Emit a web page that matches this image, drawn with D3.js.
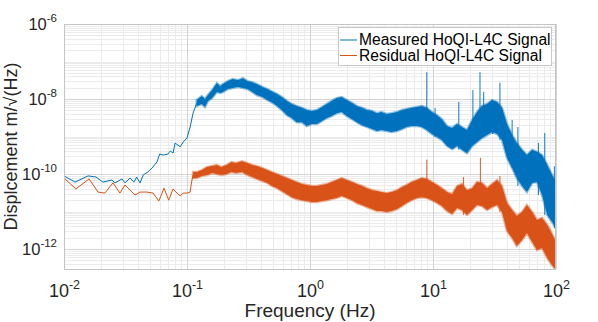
<!DOCTYPE html>
<html>
<head>
<meta charset="utf-8">
<script src="https://cdn.jsdelivr.net/npm/d3@7"></script>
<style>
  body { margin: 0; background: #fff; }
  svg { display: block; }
  text { font-family: "Liberation Sans", Arial, Helvetica, sans-serif; }
</style>
</head>
<body>
<svg id="chart" width="598" height="322"></svg>
<script>
// axis ticks
var xTickValues = [1e-2, 1e-1, 1e0, 1e1, 1e2];
var xTickExps = ["-2", "-1", "0", "1", "2"];
var yTickValues = [1e-12, 1e-10, 1e-8, 1e-6];
var yTickExps = ["-12", "-10", "-8", "-6"];
var seriesNames = ["Measured HoQI-L4C Signal", "Residual HoQI-L4C Signal"];

// measured signal, low frequency part (single trace)
var measLineFreq = [0.01, 0.0123, 0.0157, 0.0182, 0.0207, 0.0245, 0.026, 0.0296, 0.0313, 0.0344,
	0.037, 0.039, 0.0415, 0.044, 0.048, 0.052, 0.057, 0.06, 0.064, 0.07,
	0.073, 0.077, 0.08, 0.088, 0.093, 0.1, 0.106, 0.112, 0.12];
var measLineVal = [8.9e-11, 6.1e-11, 8.9e-11, 8.3e-11, 6.1e-11, 6.9e-11, 5.8e-11, 7.4e-11, 5.8e-11, 7.8e-11,
	6.1e-11, 8.3e-11, 5.8e-11, 9.4e-11, 1.13e-10, 1.44e-10, 2.1e-10, 3.4e-10, 3.2e-10, 3.4e-10,
	4.1e-10, 3.6e-10, 6.7e-10, 5.3e-10, 7.1e-10, 9.1e-10, 1.79e-9, 4.2e-9, 7.8e-9];

// measured signal, dense part: upper and lower envelope
var measBandFreq = [0.12, 0.132, 0.14, 0.148, 0.16, 0.175, 0.186, 0.196, 0.215, 0.235,
	0.26, 0.285, 0.31, 0.34, 0.37, 0.41, 0.45, 0.5, 0.54, 0.59,
	0.65, 0.71, 0.78, 0.86, 0.94, 1.03, 1.14, 1.25, 1.37, 1.5,
	1.65, 1.81, 1.99, 2.2, 2.4, 2.65, 2.9, 3.2, 3.5, 3.8,
	4.2, 4.6, 5.1, 5.6, 6.1, 6.7, 7.4, 8.1, 8.9, 9.8,
	10.8, 11.8, 13, 14.3, 15.7, 17.2, 18.9, 20.8, 22.8, 25,
	27.5, 30.2, 33.2, 36.4, 40, 44, 48, 53, 58, 64,
	70, 77, 85, 93, 100];
var measBandHi = [9.4e-9, 1.2e-8, 1.0e-8, 1.27e-8, 1.73e-8, 2.67e-8, 2.2e-8, 2.5e-8, 3.0e-8, 3.4e-8,
	3.2e-8, 3.6e-8, 3.0e-8, 2.8e-8, 2.5e-8, 2.1e-8, 1.84e-8, 1.53e-8, 1.36e-8, 1.13e-8,
	8.9e-9, 7.4e-9, 6.5e-9, 5.8e-9, 5.1e-9, 4.8e-9, 5.1e-9, 6.1e-9, 7.4e-9, 8.9e-9,
	1.06e-8, 1.13e-8, 9.4e-9, 7.8e-9, 6.5e-9, 5.8e-9, 5.1e-9, 4.8e-9, 4.2e-9, 4.5e-9,
	4.0e-9, 4.2e-9, 4.5e-9, 5.1e-9, 5.4e-9, 5.8e-9, 6.1e-9, 6.5e-9, 5.8e-9, 4.5e-9,
	3.7e-9, 2.9e-9, 1.9e-9, 1.68e-9, 2.15e-9, 1.8e-9, 1.49e-9, 2.75e-9, 4.5e-9, 6.5e-9,
	7.4e-9, 9.4e-9, 8.3e-9, 5.8e-9, 2.15e-9, 1.09e-9, 6.7e-10, 4.4e-10, 3.2e-10, 4.4e-10,
	3.9e-10, 3.2e-10, 1.73e-10, 9.4e-11, 6.1e-11];
var measBandLo = [6.5e-9, 7.4e-9, 6.1e-9, 8.9e-9, 1.06e-8, 1.53e-8, 1.44e-8, 1.53e-8, 1.84e-8, 1.96e-8,
	2.1e-8, 1.96e-8, 1.84e-8, 1.53e-8, 1.27e-8, 1.13e-8, 9.4e-9, 7.8e-9, 6.5e-9, 5.1e-9,
	3.7e-9, 3.1e-9, 2.4e-9, 2.4e-9, 1.9e-9, 2.15e-9, 2.15e-9, 2.6e-9, 3.1e-9, 3.5e-9,
	4.2e-9, 4.5e-9, 3.5e-9, 2.9e-9, 2.4e-9, 2.0e-9, 1.8e-9, 1.58e-9, 1.4e-9, 1.49e-9,
	1.4e-9, 1.31e-9, 1.4e-9, 1.58e-9, 1.8e-9, 1.9e-9, 1.9e-9, 1.8e-9, 1.49e-9, 1.16e-9,
	9.7e-10, 8.1e-10, 5.6e-10, 4.6e-10, 5.6e-10, 4.4e-10, 3.6e-10, 5.6e-10, 7.1e-10, 9.1e-10,
	1.09e-9, 1.31e-9, 1.16e-9, 8.1e-10, 2.67e-10, 1.44e-10, 7.8e-11, 4.8e-11, 3.3e-11, 5.8e-11,
	6.1e-11, 2.75e-11, 8.1e-12, 5.25e-12, 3.6e-12];
// narrow lines sticking out of the measured band
var measSpikeFreq = [8.9, 10.4, 16.2, 21.1, 24.1, 25.8, 30.5, 35, 44, 49, 72, 81, 97];
var measSpikeVal = [5.2e-8, 5.75e-9, 8.3e-9, 1.74e-8, 5.2e-8, 1.53e-8, 9.4e-9, 2.7e-8, 2.75e-9, 1.8e-9, 6.7e-10, 1.24e-9, 1.6e-10];

// residual signal, low frequency part
var resLineFreq = [0.01, 0.0125, 0.016, 0.0189, 0.0215, 0.025, 0.0285, 0.0313, 0.0378, 0.0415,
	0.0473, 0.053, 0.059, 0.065, 0.071, 0.077, 0.083, 0.088, 0.093, 0.1,
	0.106, 0.109, 0.112];
var resLineVal = [7.8e-11, 4.0e-11, 7.4e-11, 3.3e-11, 3.1e-11, 5.8e-11, 3.1e-11, 5.1e-11, 2.75e-11, 3.3e-11,
	3.3e-11, 3.1e-11, 1.9e-11, 4.2e-11, 2.0e-11, 4.0e-11, 3.1e-11, 2.6e-11, 3.1e-11, 3.1e-11,
	3.3e-11, 6.1e-11, 9.4e-11];

// residual signal, dense part
var resBandFreq = [0.112, 0.12, 0.132, 0.145, 0.16, 0.175, 0.19, 0.21, 0.23, 0.25,
	0.28, 0.31, 0.34, 0.37, 0.41, 0.45, 0.49, 0.54, 0.59, 0.65,
	0.71, 0.78, 0.86, 0.94, 1.03, 1.14, 1.25, 1.37, 1.5, 1.65,
	1.81, 1.99, 2.2, 2.4, 2.65, 2.9, 3.2, 3.5, 3.8, 4.2,
	4.6, 5.1, 5.6, 6.1, 6.7, 7.4, 8.1, 8.9, 9.8, 10.8,
	11.8, 13, 14.3, 15.7, 17.2, 18.9, 20.8, 22.8, 25, 27.5,
	30.2, 33.2, 36.4, 40, 44, 48, 53, 58, 64, 70,
	77, 85, 93, 100];
var resBandHi = [1.13e-10, 1.13e-10, 1.27e-10, 1.53e-10, 1.63e-10, 1.73e-10, 1.53e-10, 1.73e-10, 2.1e-10, 1.96e-10,
	2.2e-10, 1.96e-10, 1.73e-10, 1.63e-10, 1.44e-10, 1.27e-10, 1.13e-10, 1.0e-10, 8.9e-11, 7.8e-11,
	6.9e-11, 6.1e-11, 5.4e-11, 5.1e-11, 4.8e-11, 4.8e-11, 5.1e-11, 5.4e-11, 6.1e-11, 6.9e-11,
	7.8e-11, 6.9e-11, 6.1e-11, 5.4e-11, 4.8e-11, 4.2e-11, 3.7e-11, 3.5e-11, 3.3e-11, 3.1e-11,
	3.3e-11, 3.7e-11, 4.5e-11, 5.1e-11, 6.1e-11, 6.9e-11, 7.8e-11, 7.4e-11, 6.1e-11, 5.1e-11,
	4.2e-11, 3.3e-11, 2.9e-11, 4.8e-11, 5.4e-11, 3.7e-11, 4.2e-11, 6.1e-11, 5.8e-11, 4.2e-11,
	5.4e-11, 6.9e-11, 4.8e-11, 1.68e-11, 1.09e-11, 7.6e-12, 9.7e-12, 1.49e-11, 9.7e-12, 5.9e-12,
	6.7e-12, 4.4e-12, 2.5e-12, 1.53e-12];
var resBandLo = [7.8e-11, 7.8e-11, 8.9e-11, 9.4e-11, 1.06e-10, 1.0e-10, 9.4e-11, 1.0e-10, 1.13e-10, 1.06e-10,
	1.13e-10, 9.4e-11, 8.3e-11, 7.4e-11, 6.5e-11, 5.8e-11, 4.8e-11, 4.2e-11, 3.5e-11, 2.9e-11,
	2.4e-11, 2.15e-11, 2.0e-11, 1.9e-11, 1.79e-11, 1.79e-11, 1.9e-11, 2.0e-11, 2.15e-11, 2.3e-11,
	2.6e-11, 2.3e-11, 2.0e-11, 1.68e-11, 1.49e-11, 1.31e-11, 1.16e-11, 1.03e-11, 1.03e-11, 9.7e-12,
	1.03e-11, 1.16e-11, 1.4e-11, 1.68e-11, 2.0e-11, 2.3e-11, 2.4e-11, 2.3e-11, 2.0e-11, 1.68e-11,
	1.4e-11, 1.03e-11, 8.6e-12, 1.24e-11, 1.09e-11, 8.1e-12, 1.09e-11, 1.49e-11, 1.4e-11, 1.09e-11,
	1.31e-11, 1.49e-11, 9.7e-12, 3.0e-12, 1.96e-12, 1.2e-12, 1.73e-12, 2.67e-12, 1.53e-12, 9.4e-13,
	1.06e-12, 5.75e-13, 3.7e-13, 2.75e-13];
var resSpikeFreq = [8.9, 17.7, 24.3, 35];
var resSpikeVal = [2.4e-10, 8.3e-11, 2.7e-10, 8.9e-11];

var colors = ["#0072BD", "#D95319"];

var svg = d3.select("#chart");
var plotLeft = 64, plotRight = 556, plotTop = 24, plotBottom = 269;

var x = d3.scaleLog().domain([1e-2, 1e2]).range([plotLeft, plotRight]);
var y = d3.scaleLog().domain([2.93e-13, 1e-6]).range([plotBottom, plotTop]);

// grid
var grid = svg.append("g");
grid.selectAll(".xminor").data(x.ticks()).enter().append("line")
	.attr("x1", function(d) { return Math.round(x(d)) + 0.5; })
	.attr("x2", function(d) { return Math.round(x(d)) + 0.5; })
	.attr("y1", plotTop).attr("y2", plotBottom)
	.attr("stroke", "#ebebeb").attr("stroke-width", 1);
grid.selectAll(".yminor").data(y.ticks()).enter().append("line")
	.attr("y1", function(d) { return Math.round(y(d)) + 0.5; })
	.attr("y2", function(d) { return Math.round(y(d)) + 0.5; })
	.attr("x1", plotLeft).attr("x2", plotRight)
	.attr("stroke", "#ebebeb").attr("stroke-width", 1);
grid.selectAll(".xmajor").data(xTickValues).enter().append("line")
	.attr("x1", function(d) { return Math.round(x(d)) + 0.5; })
	.attr("x2", function(d) { return Math.round(x(d)) + 0.5; })
	.attr("y1", plotTop).attr("y2", plotBottom)
	.attr("stroke", "#d4d4d4").attr("stroke-width", 1);
grid.selectAll(".ymajor").data(yTickValues).enter().append("line")
	.attr("y1", function(d) { return Math.round(y(d)) + 0.5; })
	.attr("y2", function(d) { return Math.round(y(d)) + 0.5; })
	.attr("x1", plotLeft).attr("x2", plotRight)
	.attr("stroke", "#d4d4d4").attr("stroke-width", 1);

svg.append("clipPath").attr("id", "plotclip").append("rect")
	.attr("x", plotLeft).attr("y", plotTop)
	.attr("width", plotRight - plotLeft).attr("height", plotBottom - plotTop);

var plot = svg.append("g").attr("clip-path", "url(#plotclip)");

var line = d3.line().x(function(d) { return x(d[0]); }).y(function(d) { return y(d[1]); });
var band = d3.area().x(function(d) { return x(d[0]); })
	.y0(function(d) { return y(d[2]); }).y1(function(d) { return y(d[1]); });

function drawSeries(lineF, lineV, bandF, bandHi, bandLo, spikeF, spikeV, color) {
	plot.append("path").datum(d3.zip(lineF, lineV))
		.attr("d", line).attr("fill", "none")
		.attr("stroke", color).attr("stroke-width", 1);
	// soft fringe around the dense part, then the solid core
	plot.append("path").datum(d3.zip(bandF, bandHi, bandLo))
		.attr("d", band).attr("fill", "none")
		.attr("stroke", color).attr("stroke-width", 2.4).attr("stroke-opacity", 0.45)
		.attr("stroke-linejoin", "miter");
	plot.append("path").datum(d3.zip(bandF, bandHi, bandLo))
		.attr("d", band).attr("fill", color).attr("stroke", "none");
	// spikes go from the band's lower edge up to their peak
	plot.selectAll(null).data(d3.zip(spikeF, spikeV)).enter().append("line")
		.attr("x1", function(d) { return x(d[0]); })
		.attr("x2", function(d) { return x(d[0]); })
		.attr("y1", function(d) { return y(d[1]); })
		.attr("y2", function(d) {
			var i = Math.min(d3.bisectLeft(bandF, d[0]), bandF.length - 1);
			return y(bandLo[i]);
		})
		.attr("stroke", color).attr("stroke-width", 1.1).attr("stroke-opacity", 0.85);
}

drawSeries(measLineFreq, measLineVal, measBandFreq, measBandHi, measBandLo,
	measSpikeFreq, measSpikeVal, colors[0]);
drawSeries(resLineFreq, resLineVal, resBandFreq, resBandHi, resBandLo,
	resSpikeFreq, resSpikeVal, colors[1]);

// box
svg.append("rect").attr("x", plotLeft + 0.5).attr("y", plotTop + 0.5)
	.attr("width", plotRight - plotLeft - 1).attr("height", plotBottom - plotTop)
	.attr("fill", "none").attr("stroke", "#c4c4c4").attr("stroke-width", 1);

// axes with 10^n labels
function superscriptLabels(g, exps, supDy, supSize) {
	g.select(".domain").remove();
	g.selectAll(".tick line").remove();
	g.selectAll(".tick text").each(function(d, i) {
		var t = d3.select(this);
		t.text(null).attr("fill", "#262626");
		t.append("tspan").text("10");
		t.append("tspan").attr("dy", supDy).attr("font-size", supSize).text(exps[i]);
	});
}

var xAxisG = svg.append("g").attr("transform", "translate(0," + plotBottom + ")")
	.call(d3.axisBottom(x).tickValues(xTickValues).tickSize(0).tickFormat(function() { return ""; }));
xAxisG.selectAll(".tick text").attr("y", 28).attr("dy", 0).attr("font-size", 18)
	.attr("font-family", "Liberation Sans, Arial, sans-serif");
superscriptLabels(xAxisG, xTickExps, -8.5, 12.5);

var yAxisG = svg.append("g").attr("transform", "translate(" + plotLeft + ",0)")
	.call(d3.axisLeft(y).tickValues(yTickValues).tickSize(0).tickFormat(function() { return ""; }));
yAxisG.selectAll(".tick text").attr("x", -7).attr("dy", "0.34em").attr("font-size", 16.5)
	.attr("font-family", "Liberation Sans, Arial, sans-serif");
superscriptLabels(yAxisG, yTickExps, -8, 11.5);

// axis titles
svg.append("text").attr("x", (plotLeft + plotRight) / 2).attr("y", 317)
	.attr("text-anchor", "middle").attr("font-size", 19).attr("fill", "#262626")
	.text("Frequency (Hz)");
svg.append("text").attr("transform", "translate(16.5," + (plotTop + plotBottom) / 2 + ") rotate(-90)")
	.attr("text-anchor", "middle").attr("font-size", 18).attr("fill", "#262626")
	.text("Displcement m/\u221A(Hz)");

// legend
var legend = svg.append("g");
legend.append("rect").attr("x", 338.5).attr("y", 27.5).attr("width", 213).attr("height", 38)
	.attr("fill", "#fff").attr("stroke", "#c8c8c8").attr("stroke-width", 1);
seriesNames.forEach(function(name, i) {
	var ly = 40 + i * 15.5;
	legend.append("line").attr("x1", 340).attr("x2", 357).attr("y1", ly).attr("y2", ly)
		.attr("stroke", colors[i]).attr("stroke-width", 1);
	legend.append("text").attr("x", 359).attr("y", ly + 5.3)
		.attr("font-size", 15.6).attr("fill", "#000").text(name);
});
</script>
</body>
</html>
